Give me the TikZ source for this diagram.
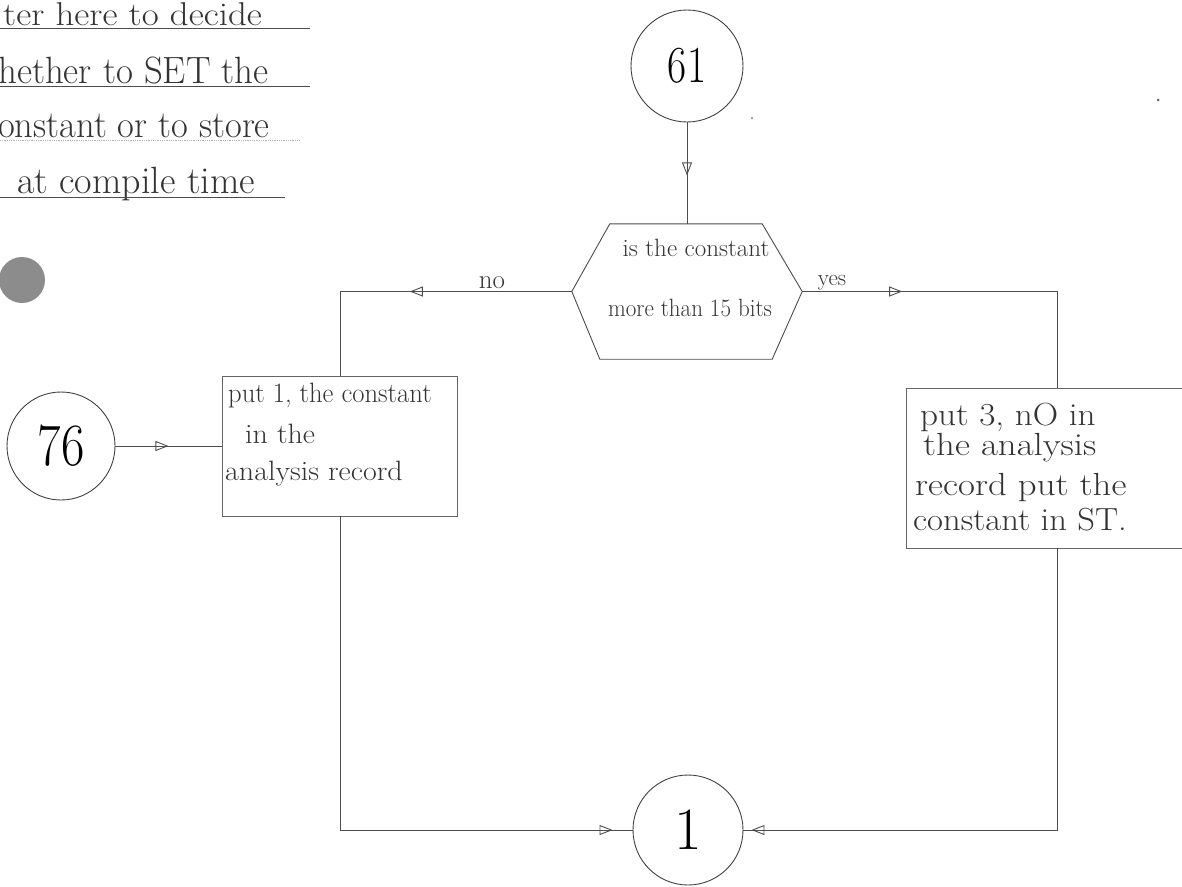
\documentclass[tikz,border=0pt]{standalone}
\usepackage{fontspec}
\usepackage{graphicx}
\usetikzlibrary{arrows.meta,decorations.markings}
\begin{document}
\begin{tikzpicture}[x=1pt,y=-1pt,
  ln/.style={draw=black!70, line width=0.9pt},
  circ/.style={circle, draw=black!75, line width=0.9pt, inner sep=0pt},
  boxnode/.style={draw=black!60, line width=0.9pt, inner sep=0pt},
  hw/.style={text=black!80, inner sep=0pt, anchor=base west},
  big/.style={font=\fontsize{38}{38}\selectfont},
  lbt/.style={font=\fontsize{28}{28}\selectfont},
  rbt/.style={font=\fontsize{32}{32}\selectfont},
  dt/.style={font=\fontsize{25}{25}\selectfont},
  arrowat/.style={postaction={decorate}, decoration={markings,
     mark=at position #1 with {\arrow{Triangle[open,length=13pt,width=10pt]}}}},
]
\useasboundingbox (0,0) rectangle (1182,886);
\clip (0,0) rectangle (1182,886);

% top-left note
\node[hw,font=\fontsize{33}{33}\selectfont] (t1) at (3,25) {\scalebox{1.12}[1]{ter here to decide}};
\node[hw,big] (t2) at (-2,83) {\scalebox{0.97}[1]{hether to SET the}};
\node[hw,big] (t3) at (-2,137) {\scalebox{0.96}[1]{onstant or to store}};
\node[hw,big] (t4) at (17,193) {at compile time};
\draw[black!70, line width=0.8pt] (0,28) -- (310,28);
\draw[black!70, line width=0.8pt] (0,86) -- (310,86);
\draw[black!30, line width=0.8pt, densely dotted] (0,140) -- (300,140);
\draw[black!70, line width=0.8pt] (0,197) -- (285,197);

% grey dot and specks
\fill[black!45] (22,280) circle (23pt);
\fill[black!60] (1158,100) circle (1.5pt);
\fill[black!50] (752,118) circle (1.2pt);

% connector circles
\node[circ, minimum size=112pt] (c61) at (687,66) {\fontsize{52}{52}\selectfont\scalebox{0.8}[1]{61}};
\node[circ, minimum size=108pt] (c76) at (61,446) {\fontsize{60}{60}\selectfont\scalebox{0.85}[1]{76}};
\node[circ, minimum size=110pt] (c1) at (688,830) {\fontsize{60}{60}\selectfont 1};

% decision hexagon
\node[minimum width=230pt, minimum height=135pt, inner sep=0pt] (dec) at (687,291.5) {};
\draw[ln] (dec.west) -- ([xshift=38pt]dec.north west) -- ([xshift=-40pt]dec.north east)
  -- (dec.east) -- ([xshift=-30pt]dec.south east) -- ([xshift=28pt]dec.south west) -- cycle;
\node[hw,dt,anchor=base] (d1) at (696,256) {is the constant};
\node[hw,dt,anchor=base] (d2) at (690,316) {\scalebox{0.92}[1]{more than 15 bits}};

% process boxes
\node[boxnode, minimum width=235pt, minimum height=140pt] (lbox) at (340,446) {};
\node[boxnode, minimum width=302pt, minimum height=160pt] (rbox) at (1057,468) {};

\node[hw,lbt] (l1) at (228,402) {\scalebox{0.95}[1]{put 1, the constant}};
\node[hw,lbt] (l2) at (245,443) {\scalebox{1.07}[1]{in the}};
\node[hw,lbt] (l3) at (225,480) {\scalebox{1.07}[1]{analysis record}};

\node[hw,rbt] (r1) at (920,425) {\scalebox{1.1}[1]{put 3, nO in}};
\node[hw,rbt] (r2) at (923,455) {\scalebox{1.15}[1]{the analysis}};
\node[hw,rbt] (r3) at (915,495) {\scalebox{1.15}[1]{record put the}};
\node[hw,rbt] (r4) at (913,530) {\scalebox{1.08}[1]{constant in ST.}};

% branch labels
\node[hw,font=\fontsize{27}{27}\selectfont,anchor=base] (no) at (492,288) {no};
\node[hw,font=\fontsize{23}{23}\selectfont,anchor=base] (yes) at (832,285) {yes};

% connectors
\draw[ln, arrowat=53pt] (c61) -- (dec.north);
\draw[ln, arrowat=162pt] (dec.west) -- (dec.west -| lbox.north) -- (lbox.north);
\draw[ln, arrowat=100pt] (dec.east) -- (dec.east -| rbox.north) -- (rbox.north);
\draw[ln, arrowat=53pt] (c76) -- (lbox.west);
\draw[ln, arrowat=-20pt] (lbox.south) -- (lbox.south |- c1.west) -- (c1.west);
\draw[ln, arrowat=-8pt] (rbox.south) -- (rbox.south |- c1.east) -- (c1.east);
\end{tikzpicture}
\end{document}
